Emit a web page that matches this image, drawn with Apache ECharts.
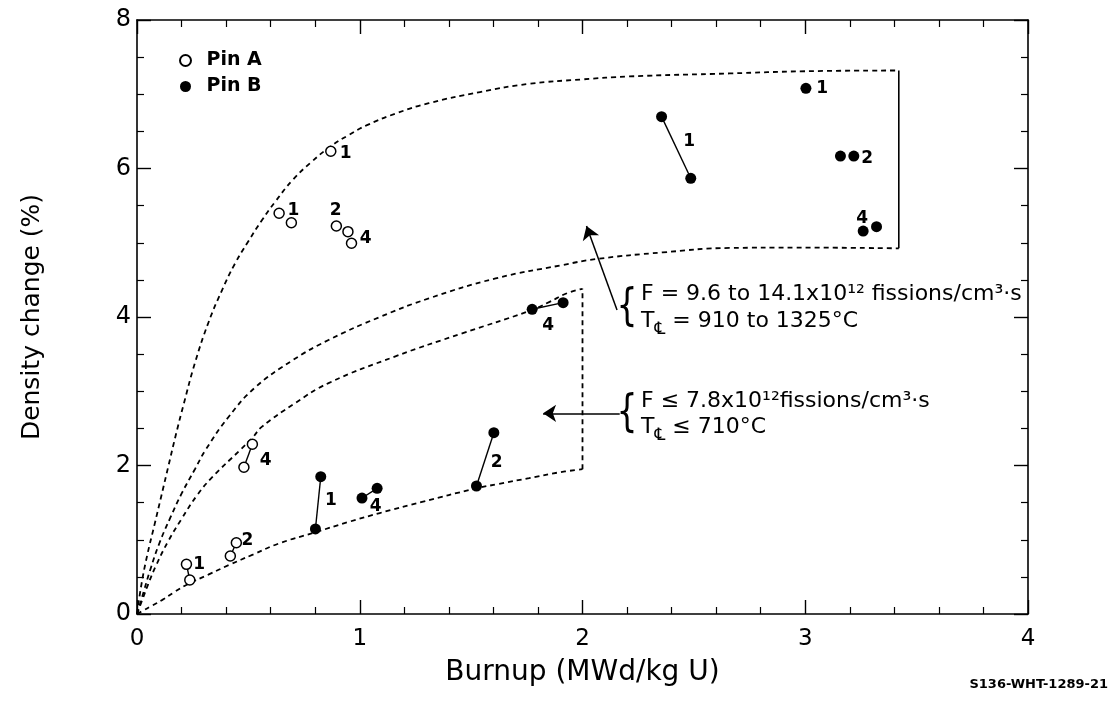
<!DOCTYPE html>
<html>
<head>
<meta charset="utf-8">
<script src="https://cdn.jsdelivr.net/npm/echarts@6/dist/echarts.min.js"></script>
<style>
  html, body { margin: 0; padding: 0; background: #fff; }
  #chart { width: 1115px; height: 709px; }
</style>
</head>
<body>
<div id="chart"></div>
<script>
// Axis ranges and tick labels
const xTickLabels = ['0', '1', '2', '3', '4'];
const yTickLabels = ['0', '2', '4', '6', '8'];

// Pin A (open circles): burnup, density change
const pinA = [
  [0.222, 0.669], [0.237, 0.458],
  [0.419, 0.781], [0.446, 0.960],
  [0.480, 1.976], [0.518, 2.286],
  [0.870, 6.232],
  [0.638, 5.397], [0.693, 5.270],
  [0.895, 5.226], [0.947, 5.149], [0.963, 4.993]
];
// Pin A measurements joined by a line (index pairs into pinA)
const pinAPairs = [[0, 1], [2, 3], [4, 5]];

// Pin B (filled circles)
const pinB = [
  [0.801, 1.145], [0.825, 1.849],
  [1.010, 1.562], [1.078, 1.693],
  [1.524, 1.724], [1.602, 2.442],
  [1.774, 4.104], [1.913, 4.193],
  [2.355, 6.698], [2.486, 5.868],
  [3.003, 7.080],
  [3.158, 6.168], [3.218, 6.168],
  [3.260, 5.158], [3.320, 5.216]
];
const pinBPairs = [[0, 1], [2, 3], [4, 5], [6, 7], [8, 9]];

// Specimen numbers written beside the points: x, y, text
const specimenLabels = [
  [0.937, 6.20, '1'], [0.702, 5.44, '1'], [0.892, 5.44, '2'], [1.027, 5.05, '4'],
  [0.279, 0.67, '1'], [0.496, 0.99, '2'], [0.578, 2.07, '4'],
  [0.870, 1.53, '1'], [1.072, 1.445, '4'], [1.615, 2.04, '2'], [1.846, 3.89, '4'],
  [2.479, 6.36, '1'], [3.076, 7.08, '1'], [3.278, 6.13, '2'], [3.256, 5.33, '4']
];

// Envelope of the high-flux region: upper boundary
const upperEnvelope = [
  [0, 0], [0.02, 0.4], [0.045, 0.78], [0.08, 1.22], [0.11, 1.6], [0.14, 1.98],
  [0.175, 2.42], [0.21, 2.83], [0.26, 3.38], [0.32, 3.92], [0.38, 4.35], [0.44, 4.72],
  [0.5, 5.02], [0.56, 5.3], [0.62, 5.55], [0.7, 5.85], [0.78, 6.08], [0.87, 6.3],
  [0.95, 6.45], [1.03, 6.58], [1.17, 6.75], [1.31, 6.88], [1.54, 7.03], [1.76, 7.14],
  [2.0, 7.2], [2.21, 7.24], [2.66, 7.28], [3.0, 7.31], [3.42, 7.32]
];
// High-flux region: lower boundary
const upperLowerBound = [
  [0, 0], [0.03, 0.3], [0.06, 0.6], [0.1, 0.95], [0.15, 1.3], [0.2, 1.62],
  [0.26, 1.95], [0.31, 2.22], [0.41, 2.65], [0.53, 3.05], [0.7, 3.42], [0.86, 3.69],
  [1.09, 4.0], [1.31, 4.25], [1.61, 4.52], [1.91, 4.70], [2.06, 4.78], [2.36, 4.87],
  [2.66, 4.93], [2.96, 4.935], [3.42, 4.925]
];
// High-flux region: closing edge at high burnup
const upperRightEdge = [[3.42, 7.32], [3.42, 4.925]];

// Low-flux region: upper boundary
const lowerUpperBound = [
  [0, 0], [0.025, 0.2], [0.05, 0.4], [0.085, 0.65], [0.14, 0.98], [0.2, 1.28],
  [0.27, 1.6], [0.34, 1.85], [0.46, 2.2], [0.52, 2.38], [0.56, 2.52], [0.71, 2.84],
  [0.86, 3.11], [1.16, 3.47], [1.46, 3.78], [1.76, 4.08], [1.85, 4.2], [1.93, 4.32],
  [2.0, 4.38]
];
// Low-flux region: lower boundary
const lowerLowerBound = [
  [0, 0], [0.03, 0.05], [0.06, 0.1], [0.114, 0.19], [0.17, 0.3], [0.234, 0.41],
  [0.32, 0.53], [0.413, 0.66], [0.52, 0.8], [0.637, 0.95], [0.8, 1.1], [0.95, 1.24],
  [1.09, 1.36], [1.28, 1.51], [1.52, 1.69], [1.62, 1.75], [1.76, 1.83], [1.9, 1.91],
  [2.0, 1.95]
];
const lowerRightEdge = [[2.0, 1.95], [2.0, 4.38]];

// Leader arrows from the annotations: [tail, head]
const arrowHigh = [[2.155, 4.094], [2.018, 5.226]];
const arrowLow = [[2.167, 2.703], [1.823, 2.703]];

const FONT = 'DejaVu Sans';
const BLACK = '#000';

const chart = echarts.init(document.getElementById('chart'), null, { renderer: 'canvas' });

const dashed = { type: [5, 4], width: 1.8, color: BLACK };

function boundary(data, style, smooth) {
  return {
    type: 'line', data, showSymbol: false, symbol: 'none', smooth: smooth ? 0.45 : false,
    lineStyle: style, silent: true, z: 2, animation: false
  };
}

function pairSeries(points, pairs) {
  return pairs.map(p => ({
    type: 'line', data: [points[p[0]], points[p[1]]], symbol: 'none',
    lineStyle: { color: BLACK, width: 1.4 }, silent: true, z: 3, animation: false
  }));
}

const xMin = Number(xTickLabels[0]), xMax = Number(xTickLabels[xTickLabels.length - 1]);
const yMin = Number(yTickLabels[0]), yMax = Number(yTickLabels[yTickLabels.length - 1]);

const axisCommon = {
  type: 'value',
  axisLine: { show: true, onZero: false, lineStyle: { color: BLACK, width: 1.6 } },
  axisTick: { show: true, inside: true, length: 14, lineStyle: { color: BLACK, width: 1.4 } },
  minorTick: { show: true, length: 7, lineStyle: { color: BLACK, width: 1.2 } },
  splitLine: { show: false },
  minorSplitLine: { show: false }
};

const option = {
  animation: false,
  backgroundColor: '#fff',
  grid: { left: 137, right: 87, top: 20, bottom: 95 },
  xAxis: [
    Object.assign({}, axisCommon, {
      position: 'bottom', min: xMin, max: xMax, interval: 1,
      minorTick: Object.assign({}, axisCommon.minorTick, { splitNumber: 5 }),
      axisLabel: { color: BLACK, fontFamily: FONT, fontSize: 23, margin: 14 },
      name: 'Burnup (MWd/kg U)', nameLocation: 'middle', nameGap: 45,
      nameTextStyle: { color: BLACK, fontFamily: FONT, fontSize: 28 }
    }),
    Object.assign({}, axisCommon, {
      position: 'top', min: xMin, max: xMax, interval: 1,
      minorTick: Object.assign({}, axisCommon.minorTick, { splitNumber: 5 }),
      axisLabel: { show: false }
    })
  ],
  yAxis: [
    Object.assign({}, axisCommon, {
      position: 'left', min: yMin, max: yMax, interval: 2,
      minorTick: Object.assign({}, axisCommon.minorTick, { splitNumber: 4 }),
      axisLabel: { color: BLACK, fontFamily: FONT, fontSize: 24, margin: 6 },
      name: 'Density change (%)', nameLocation: 'middle', nameGap: 92,
      nameTextStyle: { color: BLACK, fontFamily: FONT, fontSize: 25 }
    }),
    Object.assign({}, axisCommon, {
      position: 'right', min: yMin, max: yMax, interval: 2,
      minorTick: Object.assign({}, axisCommon.minorTick, { splitNumber: 4 }),
      axisLabel: { show: false }
    })
  ],
  legend: {
    data: ['Pin A', 'Pin B'],
    orient: 'vertical', left: 174, top: 46, itemGap: 7,
    itemWidth: 32, itemHeight: 11, icon: 'circle',
    textStyle: { color: BLACK, fontFamily: FONT, fontSize: 19, fontWeight: 'bold' },
    selectedMode: false
  },
  series: [
    boundary(upperEnvelope, dashed, true),
    boundary(upperLowerBound, dashed, true),
    boundary(upperRightEdge, { color: BLACK, width: 1.6 }, false),
    boundary(lowerUpperBound, dashed, true),
    boundary(lowerLowerBound, dashed, true),
    boundary(lowerRightEdge, dashed, false),
    ...pairSeries(pinA, pinAPairs),
    ...pairSeries(pinB, pinBPairs),
    {
      name: 'Pin A', type: 'scatter', data: pinA, symbol: 'circle', symbolSize: 10,
      itemStyle: { color: '#fff', borderColor: BLACK, borderWidth: 1.5, opacity: 1 }, z: 5
    },
    {
      name: 'Pin B', type: 'scatter', data: pinB, symbol: 'circle', symbolSize: 11,
      itemStyle: { color: BLACK, opacity: 1 }, z: 5
    },
    {
      type: 'scatter', data: specimenLabels, symbolSize: 0, silent: true, z: 6,
      itemStyle: { opacity: 1 },
      label: {
        show: true, position: 'inside', formatter: p => p.data[2], opacity: 1,
        color: BLACK, fontFamily: FONT, fontWeight: 'bold', fontSize: 17, textBorderWidth: 0
      }
    },
    {
      type: 'line', data: [], silent: true, z: 4,
      markLine: {
        silent: true, symbol: ['none', 'arrow'], symbolSize: 13, label: { show: false },
        lineStyle: { color: BLACK, width: 1.5, type: 'solid' },
        emphasis: { disabled: true },
        data: [
          [{ coord: arrowHigh[0] }, { coord: arrowHigh[1] }],
          [{ coord: arrowLow[0] }, { coord: arrowLow[1] }]
        ]
      }
    }
  ],
  graphic: [
    { type: 'text', x: 627, y: 309, scaleX: 0.75, style: { text: '{', font: '44px "DejaVu Sans"', fill: BLACK, align: 'center', verticalAlign: 'middle' } },
    { type: 'text', x: 641, y: 294, style: { text: 'F = 9.6 to 14.1x10¹² fissions/cm³·s', font: '22px "DejaVu Sans"', fill: BLACK, align: 'left', verticalAlign: 'middle' } },
    { type: 'text', x: 641, y: 321, style: {
        text: 'T{c|℄} = 910 to 1325°C', font: '22px "DejaVu Sans"', lineHeight: 34, fill: BLACK,
        align: 'left', verticalAlign: 'middle',
        rich: { c: { fontSize: 17, fontFamily: FONT, lineHeight: 16, verticalAlign: 'bottom', fill: BLACK } }
    } },
    { type: 'text', x: 627, y: 415, scaleX: 0.75, style: { text: '{', font: '44px "DejaVu Sans"', fill: BLACK, align: 'center', verticalAlign: 'middle' } },
    { type: 'text', x: 641, y: 401, style: { text: 'F ≤ 7.8x10¹²fissions/cm³·s', font: '22px "DejaVu Sans"', fill: BLACK, align: 'left', verticalAlign: 'middle' } },
    { type: 'text', x: 641, y: 427, style: {
        text: 'T{c|℄} ≤ 710°C', font: '22px "DejaVu Sans"', lineHeight: 34, fill: BLACK,
        align: 'left', verticalAlign: 'middle',
        rich: { c: { fontSize: 17, fontFamily: FONT, lineHeight: 16, verticalAlign: 'bottom', fill: BLACK } }
    } },
    { type: 'text', x: 1108, y: 685, style: { text: 'S136-WHT-1289-21', font: 'bold 13px "DejaVu Sans"', fill: BLACK, align: 'right', verticalAlign: 'middle' } }
  ]
};

chart.setOption(option);
</script>
</body>
</html>
